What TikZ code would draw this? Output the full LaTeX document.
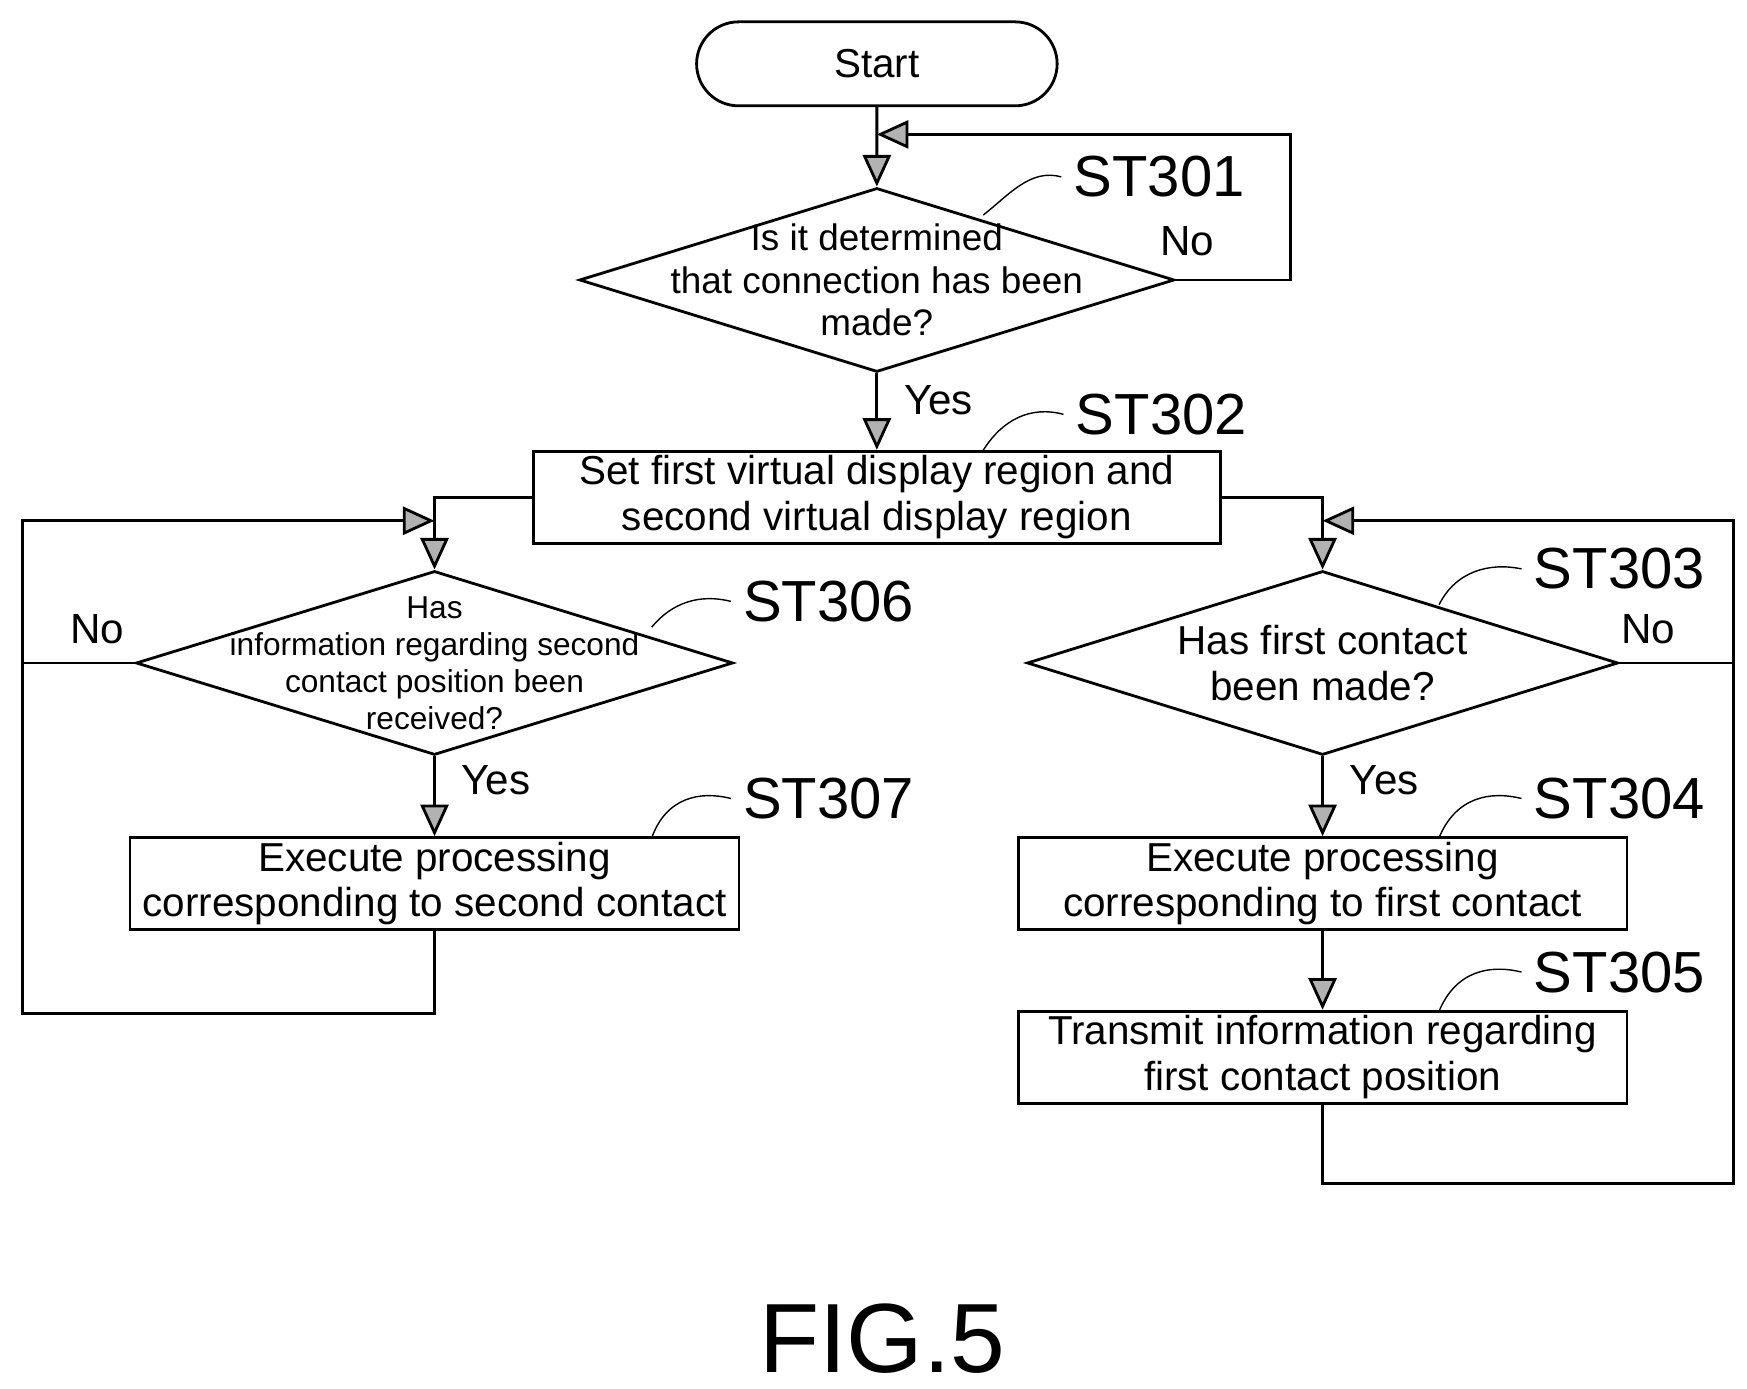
\documentclass[tikz,border=0pt]{standalone}
\usepackage{fontspec}
\setmainfont{Liberation Sans}
\usetikzlibrary{shapes.geometric,shapes.misc,arrows.meta}
\tikzset{
  line/.style={draw, thick},
  arr/.style={thick, -{Triangle[length=9pt,width=8pt,fill=gray!60]}},
  proc/.style={draw, thick, rectangle, minimum width=6.09cm, minimum height=0.92cm, align=center, font=\fontsize{11.5}{13}\selectfont, inner sep=1pt},
  dec/.style={draw, thick, diamond, inner sep=0pt, minimum width=5.95cm, minimum height=1.84cm},
  dectxt/.style={align=center, font=\fontsize{10.5}{12}\selectfont, inner sep=0pt},
  term/.style={draw, thick, rounded rectangle, minimum width=3.84cm, minimum height=0.84cm, font=\fontsize{11.5}{13}\selectfont},
  steplbl/.style={font=\fontsize{16.5}{19}\selectfont},
  lbl/.style={font=\fontsize{12}{14}\selectfont}
}
\begin{document}
\begin{tikzpicture}[x=0.0112cm,y=-0.0112cm]
\useasboundingbox (0,0) rectangle (1560,1240);

\node[term] (start) at (783,57) {Start};
\node[dec] (d301) at (783,250) {};
\node[dectxt] at (d301) {Is it determined\\that connection has been\\made?};
\node[proc, minimum width=6.87cm] (p302) at (783,444) {Set first virtual display region and\\second virtual display region};
\node[dec, minimum width=5.97cm] (d306) at (388,592) {};
\node[dectxt, font=\fontsize{9}{10.5}\selectfont] at (d306) {Has\\information regarding second\\contact position been\\received?};
\node[dec, minimum width=5.91cm] (d303) at (1181,592) {};
\node[dectxt, font=\fontsize{11.5}{13}\selectfont] at (d303) {Has first contact\\been made?};
\node[proc] (p307) at (388,789) {Execute processing\\corresponding to second contact};
\node[proc] (p304) at (1181,789) {Execute processing\\corresponding to first contact};
\node[proc] (p305) at (1181,944) {Transmit information regarding\\first contact position};

\coordinate (c301) at (783,120);
\coordinate (c306) at (388,465);
\coordinate (c303) at (1181,465);

% main flow
\draw[arr] (start) -- (d301);
\draw[arr] (d301) -- node[lbl, right=4pt, pos=0.35] {Yes} (p302);
\draw[arr] (p302.west) -| (d306.north);
\draw[arr] (p302.east) -| (d303.north);
\draw[arr] (d306) -- node[lbl, right=4pt, pos=0.3] {Yes} (p307);
\draw[arr] (d303) -- node[lbl, right=4pt, pos=0.3] {Yes} (p304);
\draw[arr] (p304) -- (p305);

% loops
\draw[arr] (d301.east) -- (1152,250) -- (1152,120) -- (c301);
\draw[arr] (p307.south) -- (388,905) -- (20,905) -- (20,465) -- (c306);
\draw[line] (d306.west) -- (20,592);
\draw[arr] (p305.south) -- (1181,1057) -- (1548,1057) -- (1548,465) -- (c303);
\draw[line] (d303.east) -- (1548,592);

\node[lbl] (no301) at (1060,215) {No};
\node[lbl] (no306) at (87,562) {No};
\node[lbl] (no303) at (1472,562) {No};

% step labels
\node[steplbl] (s301) at (1035,158) {ST301};
\node[steplbl] (s302) at (1037,370) {ST302};
\node[steplbl] (s303) at (1446,508) {ST303};
\node[steplbl] (s306) at (740,537) {ST306};
\node[steplbl] (s304) at (1446,713) {ST304};
\node[steplbl] (s307) at (740,713) {ST307};
\node[steplbl] (s305) at (1446,868) {ST305};

\draw[thin] (s301.west) .. controls (920,150) and (900,175) .. (878,192);
\draw[thin] (s302.west) .. controls (920,362) and (895,375) .. (878,402);
\draw[thin] (s303.west) .. controls (1330,502) and (1300,510) .. (1285,540);
\draw[thin] (s306.west) .. controls (625,530) and (600,538) .. (582,560);
\draw[thin] (s304.west) .. controls (1330,706) and (1300,712) .. (1285,748);
\draw[thin] (s307.west) .. controls (625,706) and (595,712) .. (582,748);
\draw[thin] (s305.west) .. controls (1330,861) and (1300,867) .. (1285,903);

\node[font=\fontsize{28}{32}\selectfont] (fig) at (788,1195) {FIG.5};
\end{tikzpicture}
\end{document}
